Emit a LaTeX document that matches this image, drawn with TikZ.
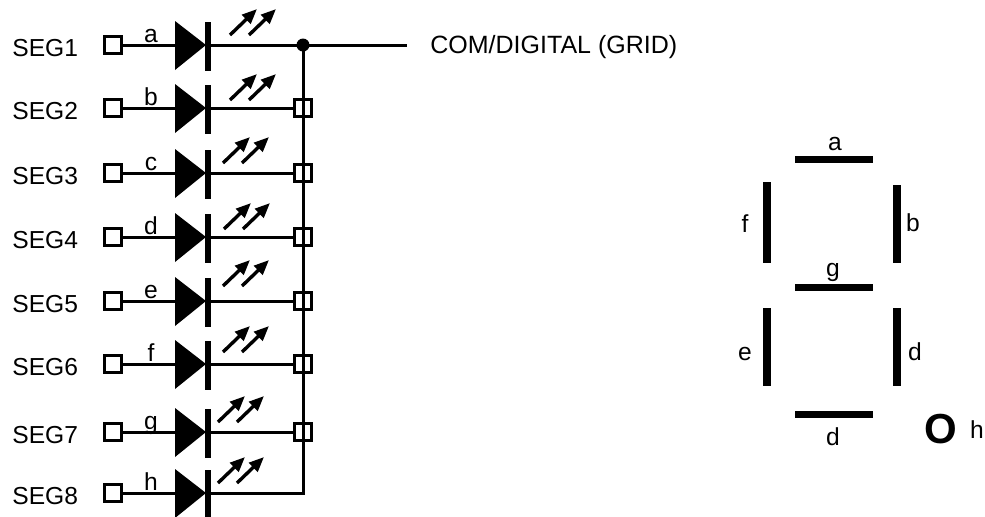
\documentclass[tikz,border=0pt]{standalone}
\usepackage{fontspec}
\setmainfont{Liberation Sans}
\usetikzlibrary{arrows.meta}
\begin{document}
\begin{tikzpicture}[x=0.5pt,y=-0.5pt,
  wire/.style={line width=1.5pt},
  term/.style={draw,line width=1.5pt,minimum width=8.8pt,minimum height=8.5pt,inner sep=0pt},
  lbl/.style={font=\fontsize{12.3pt}{14pt}\selectfont,inner sep=0pt,anchor=base},
  light/.style={line width=1.7pt,-{Triangle[length=7.5pt,width=6pt]}},
  segbar/.style={fill=black},
]
\useasboundingbox (0,0) rectangle (985,516);
\foreach \i/\y/\l/\ax/\ao in {1/45/a/230/10, 2/108/b/230/8, 3/173/c/223/10, 4/237/d/224/8, 5/301/e/223/15, 6/364/f/223/12, 7/432/g/218/10, 8/493/h/218/10} {
  \node[lbl,anchor=base west] (seg\i) at (12,\y+11.5) {SEG\i};
  \node[term] (t\i) at (113,\y) {};
  \coordinate (an\i) at (176,\y);
  \coordinate (ca\i) at (208,\y);
  \fill (175,\y-24) -- (175,\y+25) -- (206,\y) -- cycle;
  \fill (205,\y-23) rectangle (211,\y+26);
  \node[lbl] (l\i) at (151,\y-3) {\l};
  \draw[wire] (t\i) -- (an\i);
  \draw[light] (\ax,\y-\ao) -- ++(27,-26);
  \draw[light] (\ax+19,\y-\ao) -- ++(27,-26);
}
\foreach \i/\y in {2/108, 3/173, 4/237, 5/301, 6/364, 7/432} {
  \node[term] (b\i) at (303,\y) {};
  \draw[wire] (ca\i) -- (b\i);
}
\node[circle,fill,inner sep=0pt,minimum size=6.5pt] (dot) at (303,45) {};
\coordinate (comend) at (407,45);
\coordinate (corner) at (303,493);
\draw[wire] (ca1) -- (dot.center) -- (comend);
\draw[wire] (dot.center) -- (corner) -- (ca8);
\node[lbl,anchor=base west,font=\fontsize{12.5pt}{14pt}\selectfont] (com) at (430,53) {COM/DIGITAL (GRID)};
% seven segment display
\fill[segbar] (795,156) rectangle (873,163);
\fill[segbar] (795,284) rectangle (873,291);
\fill[segbar] (795,411) rectangle (873,418);
\fill[segbar] (763,182) rectangle (771,263);
\fill[segbar] (893,185) rectangle (901,263);
\fill[segbar] (763,308) rectangle (771,386);
\fill[segbar] (893,308) rectangle (901,386);
\node[lbl] (sa) at (835,150) {a};
\node[lbl] (sf) at (745,232) {f};
\node[lbl] (sb) at (913,231) {b};
\node[lbl] (sg) at (833,276) {g};
\node[lbl] (se) at (745,360) {e};
\node[lbl] (sd) at (915,360) {d};
\node[lbl] (sd2) at (833,445) {d};
\node[lbl,font=\fontsize{21pt}{22pt}\selectfont\bfseries] (so) at (941,443) {O};
\node[lbl] (sh) at (977,438) {h};
\end{tikzpicture}
\end{document}
